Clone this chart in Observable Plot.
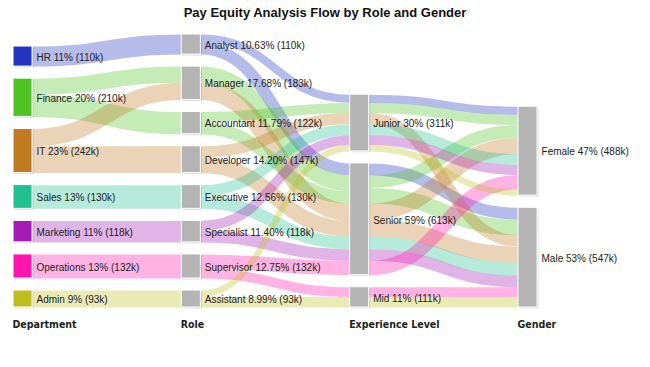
<!DOCTYPE html>
<html><head><meta charset="utf-8">
<script src="https://cdn.jsdelivr.net/npm/d3@7"></script>
<script src="https://cdn.jsdelivr.net/npm/@observablehq/plot@0.6"></script>
<style>
body{margin:0;background:#fff;font-family:"Liberation Sans",Arial,sans-serif;}
#title{height:26px;line-height:26px;text-align:center;font-weight:bold;font-size:13px;color:#111;}
</style></head><body>
<div id="title"></div>
<div id="chart"></div>
<script>
const title = "Pay Equity Analysis Flow by Role and Gender";
const stages = ["Department", "Role", "Experience Level", "Gender"];
const departments = ["HR", "Finance", "IT", "Sales", "Marketing", "Operations", "Admin"];
const deptColors = ["#2234c0", "#4fc324", "#c07a20", "#21c08f", "#a31cb8", "#ff14ae", "#bfbe1e"];
const roles = ["Analyst", "Manager", "Accountant", "Developer", "Executive", "Specialist", "Supervisor", "Assistant"];
const levels = ["Junior", "Senior", "Mid"];
const genders = ["Female", "Male"];
const percentDecimals = [0, 2, 0, 0];

// [department, role, value in k]
const deptToRole = [
  ["HR", "Analyst", 110],
  ["Finance", "Manager", 88], ["Finance", "Accountant", 122],
  ["IT", "Manager", 95], ["IT", "Developer", 147],
  ["Sales", "Executive", 130],
  ["Marketing", "Specialist", 118],
  ["Operations", "Supervisor", 132],
  ["Admin", "Assistant", 93]
];
// [role, level, department, value in k]
const roleToLevel = [
  ["Analyst", "Junior", "HR", 45], ["Analyst", "Senior", "HR", 65],
  ["Manager", "Senior", "Finance", 88], ["Manager", "Senior", "IT", 95],
  ["Accountant", "Junior", "Finance", 55], ["Accountant", "Senior", "Finance", 67],
  ["Developer", "Junior", "IT", 62], ["Developer", "Senior", "IT", 85],
  ["Executive", "Junior", "Sales", 60], ["Executive", "Senior", "Sales", 70],
  ["Specialist", "Junior", "Marketing", 54], ["Specialist", "Senior", "Marketing", 64],
  ["Supervisor", "Senior", "Operations", 79], ["Supervisor", "Mid", "Operations", 53],
  ["Assistant", "Junior", "Admin", 35], ["Assistant", "Mid", "Admin", 58]
];
// [level, gender, department, value in k]
const levelToGender = [
  ["Junior", "Female", "HR", 45], ["Senior", "Male", "HR", 65],
  ["Junior", "Female", "Finance", 55], ["Senior", "Female", "Finance", 70], ["Senior", "Male", "Finance", 85],
  ["Junior", "Male", "IT", 62], ["Senior", "Female", "IT", 90], ["Senior", "Male", "IT", 90],
  ["Junior", "Female", "Sales", 60], ["Senior", "Male", "Sales", 70],
  ["Junior", "Female", "Marketing", 54], ["Senior", "Male", "Marketing", 64],
  ["Senior", "Female", "Operations", 79], ["Mid", "Male", "Operations", 53],
  ["Junior", "Female", "Admin", 35], ["Mid", "Male", "Admin", 58]
];

document.getElementById("title").textContent = title;

const columns = [departments, roles, levels, genders];
const links = [];
deptToRole.forEach(([s, t, v]) => links.push({stage: 0, source: s, target: t, dept: s, value: v}));
roleToLevel.forEach(([s, t, d, v]) => links.push({stage: 1, source: s, target: t, dept: d, value: v}));
levelToGender.forEach(([s, t, d, v]) => links.push({stage: 2, source: s, target: t, dept: d, value: v}));

const total = d3.sum(deptToRole, d => d[2]);
const pad = 66;
const H = total + pad * (d3.max(columns, c => c.length) - 1);

const nodes = [];
const nodeMap = new Map();
columns.forEach((names, col) => {
  const vals = names.map(n => {
    const out = d3.sum(links.filter(l => l.stage === col && l.source === n), l => l.value);
    const inn = d3.sum(links.filter(l => l.stage === col - 1 && l.target === n), l => l.value);
    return Math.max(out, inn);
  });
  const colH = d3.sum(vals) + pad * (names.length - 1);
  let y = H - colH;
  names.forEach((n, i) => {
    const node = {col, name: n, index: i, value: vals[i], y0: y, y1: y + vals[i]};
    node.label = `${n} ${(vals[i] / total * 100).toFixed(percentDecimals[col])}% (${vals[i]}k)`;
    nodes.push(node);
    nodeMap.set(col + ":" + n, node);
    y += vals[i] + pad;
  });
});
links.forEach(l => {
  l.s = nodeMap.get(l.stage + ":" + l.source);
  l.t = nodeMap.get((l.stage + 1) + ":" + l.target);
  l.di = departments.indexOf(l.dept);
});
nodes.forEach(n => {
  const outs = links.filter(l => l.s === n).sort((a, b) => a.di - b.di || a.t.index - b.t.index);
  let o = n.y0;
  outs.forEach(l => { l.ys = o + l.value / 2; o += l.value; });
  const ins = links.filter(l => l.t === n).sort((a, b) => a.di - b.di || a.s.index - b.s.index);
  let p = n.y0;
  ins.forEach(l => { l.yt = p + l.value / 2; p += l.value; });
});

const mTop = 8, mBottom = 60, svgH = 341;
const ky = (svgH - mBottom - mTop) / H;
const nodeW = 0.113;
const font = '"Liberation Sans", Arial, sans-serif';
const stageFont = '"Liberation Sans Narrow", "DejaVu Sans Condensed", "Liberation Sans", sans-serif';

const chart = Plot.plot({
  width: 650,
  height: svgH,
  marginTop: mTop, marginBottom: mBottom, marginLeft: 13, marginRight: 132,
  x: {domain: [0, 3], range: [13, 518]},
  y: {domain: [0, H], range: [mTop, svgH - mBottom], axis: null},
  color: {domain: departments, range: deptColors},
  style: {fontFamily: font, background: "#fff", color: "#222", overflow: "visible"},
  marks: [
    Plot.link(links, {
      x1: d => d.stage + nodeW, x2: d => d.stage + 1,
      y1: "ys", y2: "yt",
      curve: "bump-x",
      stroke: "dept",
      strokeWidth: d => d.value * ky,
      strokeOpacity: 0.33
    }),
    Plot.rect(nodes, {x1: "col", x2: d => d.col + nodeW, y1: "y0", y2: "y1", fill: "#000", fillOpacity: 0.13, dx: 1.5, dy: 1.5}),
    Plot.rect(nodes.filter(d => d.col === 0), {x1: "col", x2: d => d.col + nodeW, y1: "y0", y2: "y1", fill: "name", stroke: "#fff", strokeWidth: 1}),
    Plot.rect(nodes.filter(d => d.col > 0), {x1: "col", x2: d => d.col + nodeW, y1: "y0", y2: "y1", fill: "#b4b4b4", stroke: "#fff", strokeWidth: 1}),
    Plot.text(nodes, {x: d => d.col + nodeW, y: d => (d.y0 + d.y1) / 2, text: "label", textAnchor: "start", dx: 4, dy: 1, fontSize: 10, fill: "#222"}),
    Plot.axisX({
      ticks: [0, 1, 2, 3], tickFormat: i => stages[i], tickSize: 0, tickPadding: 13,
      textAnchor: "start", dx: -1, fontSize: 10.5, fontWeight: "bold", fontFamily: stageFont,
      label: null, fill: "#222"
    })
  ]
});
document.getElementById("chart").appendChild(chart);
</script>
</body></html>
